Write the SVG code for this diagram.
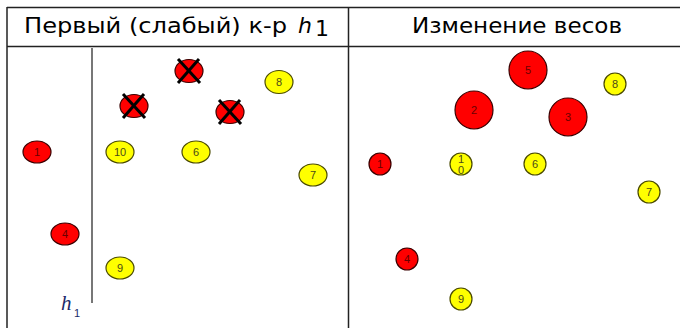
<svg xmlns="http://www.w3.org/2000/svg" width="680" height="328" viewBox="0 0 680 328">
<style>
.border{stroke:#222;stroke-width:1.5;fill:none}
.hdr{font-family:"DejaVu Sans","Liberation Sans",sans-serif;font-size:22px;fill:#000}
.red{fill:#ff0000;stroke:#3a0000;stroke-width:1.2}
.yel{fill:#ffff00;stroke:#4a4a00;stroke-width:1.2}
.lbl{font-family:"Liberation Sans",Arial,sans-serif;font-size:11px;text-anchor:middle;dominant-baseline:central}
.lr{fill:#6a0000}
.ly{fill:#4a4a1a}
.xm{stroke:#000;stroke-width:3;stroke-linecap:butt}
.sep{stroke:#777;stroke-width:2}
</style>
<rect width="680" height="328" fill="#fff"/>
<g id="table">
<line class="border" x1="7" y1="7.5" x2="680" y2="7.5"/>
<line class="border" x1="7" y1="46.5" x2="680" y2="46.5"/>
<line class="border" x1="7" y1="7" x2="7" y2="328"/>
<line class="border" x1="348.5" y1="7" x2="348.5" y2="328"/>
<text class="hdr" x="24" y="33" textLength="263" lengthAdjust="spacingAndGlyphs">Первый (слабый) к-р</text>
<text class="hdr" x="298" y="33" font-style="italic" font-size="23">h</text>
<text class="hdr" x="315" y="36" font-size="15">1</text>
<text class="hdr" x="412" y="33" textLength="210" lengthAdjust="spacingAndGlyphs">Изменение весов</text>
</g>
<g id="connectors">
<line class="sep" x1="92" y1="48" x2="92" y2="303"/>
<text x="61" y="310" font-family="Liberation Serif,serif" font-style="italic" font-size="21" fill="#1a2a6a">h</text>
<text x="74" y="317" font-family="Liberation Sans,sans-serif" font-size="11" fill="#1a2a6a">1</text>
</g>
<g id="left-x-top"><ellipse class="red" cx="189" cy="71" rx="14" ry="11.5"/><line class="xm" x1="178" y1="59" x2="200" y2="83"/><line class="xm" x1="199" y1="59" x2="178" y2="83"/></g>
<g id="left-x-left"><ellipse class="red" cx="134" cy="106" rx="14" ry="11.5"/><line class="xm" x1="123" y1="94" x2="145" y2="118"/><line class="xm" x1="144" y1="94" x2="123" y2="118"/></g>
<g id="left-x-right"><ellipse class="red" cx="230" cy="112" rx="14" ry="11.5"/><line class="xm" x1="219" y1="100" x2="241" y2="124"/><line class="xm" x1="240" y1="100" x2="219" y2="124"/></g>
<g id="left-8"><ellipse class="yel" cx="279" cy="82" rx="14" ry="11.5"/><text class="lbl ly" x="279" y="82">8</text></g>
<g id="left-1"><ellipse class="red" cx="37" cy="152" rx="14" ry="11"/><text class="lbl lr" x="37" y="152">1</text></g>
<g id="left-10"><ellipse class="yel" cx="120" cy="152" rx="14" ry="11"/><text class="lbl ly" x="120" y="152" font-size="8">10</text></g>
<g id="left-6"><ellipse class="yel" cx="196" cy="152" rx="14" ry="11"/><text class="lbl ly" x="196" y="152">6</text></g>
<g id="left-7"><ellipse class="yel" cx="313" cy="175" rx="14" ry="11"/><text class="lbl ly" x="313" y="175">7</text></g>
<g id="left-4"><ellipse class="red" cx="65" cy="234" rx="14" ry="11"/><text class="lbl lr" x="65" y="234">4</text></g>
<g id="left-9"><ellipse class="yel" cx="120" cy="268" rx="14" ry="11"/><text class="lbl ly" x="120" y="268">9</text></g>
<g id="right-5"><circle class="red" cx="528" cy="70" r="19"/><text class="lbl lr" x="528" y="70">5</text></g>
<g id="right-2"><circle class="red" cx="474" cy="110" r="19"/><text class="lbl lr" x="474" y="110">2</text></g>
<g id="right-3"><circle class="red" cx="568" cy="117" r="19"/><text class="lbl lr" x="568" y="117">3</text></g>
<g id="right-8"><circle class="yel" cx="615" cy="84" r="11"/><text class="lbl ly" x="615" y="84">8</text></g>
<g id="right-1"><circle class="red" cx="380" cy="164" r="11"/><text class="lbl lr" x="380" y="164">1</text></g>
<g id="right-10"><circle class="yel" cx="461" cy="164" r="11"/><text class="lbl ly" x="461" y="158.5" font-size="7.5">1</text><text class="lbl ly" x="461" y="169.5" font-size="7.5">0</text></g>
<g id="right-6"><circle class="yel" cx="535" cy="164" r="11"/><text class="lbl ly" x="535" y="164">6</text></g>
<g id="right-7"><circle class="yel" cx="649" cy="192" r="11"/><text class="lbl ly" x="649" y="192">7</text></g>
<g id="right-4"><circle class="red" cx="407" cy="259" r="11"/><text class="lbl lr" x="407" y="259">4</text></g>
<g id="right-9"><circle class="yel" cx="461" cy="299" r="11"/><text class="lbl ly" x="461" y="299">9</text></g>
</svg>
